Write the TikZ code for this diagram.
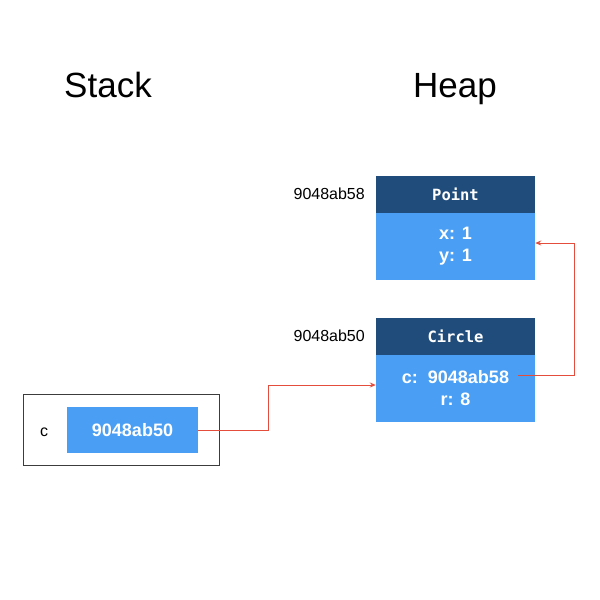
\documentclass[tikz,border=0pt]{standalone}
\usepackage{fontspec}
\setmainfont{Liberation Sans}
\setmonofont{DejaVu Sans Mono}
\usepackage{tikz}
\usetikzlibrary{arrows.meta,positioning,calc}
\usepackage{xcolor}
\definecolor{headblue}{RGB}{31,76,122}
\definecolor{cellblue}{RGB}{74,159,245}
\definecolor{ptrred}{RGB}{228,76,60}
\definecolor{frame}{RGB}{60,60,60}

\begin{document}
\begin{tikzpicture}[
  x=1pt, y=-1pt,
  >=Stealth,
  title/.style={anchor=base, font=\fontsize{35}{40}\selectfont},
  addr/.style={anchor=east, inner sep=0pt, font=\fontsize{16}{18}\selectfont},
  head/.style={fill=headblue, text=white, minimum width=159pt, minimum height=37pt, inner sep=0pt, font=\ttfamily\bfseries\fontsize{15.5}{18}\selectfont},
  body/.style={fill=cellblue, text=white, minimum width=159pt, minimum height=67pt, inner sep=0pt, align=center, font=\bfseries\fontsize{18}{22}\selectfont},
  ptr/.style={-{Stealth[length=6pt,width=5pt]}, draw=ptrred, line width=1pt}
]
\useasboundingbox (0,0) rectangle (600,600);

\node[title] (stack) at (108,97) {Stack};
\node[title] (heap) at (455,97) {Heap};

\node[head] (pointhead) at (455.5,194.5) {Point};
\node[body] (pointbody) at (455.5,246.5) {x: 1\\y: 1};
\node[addr] (pointaddr) at (365,194) {9048ab58};

\node[head] (circlehead) at (455.5,336) {Circle};
\node[body] (circlebody) at (455.5,388.5) {c:\ \ 9048ab58\\r: 8};
\node[addr] (circleaddr) at (365,336) {9048ab50};

\node[draw=frame, line width=0.9pt, minimum width=196pt, minimum height=71pt] (frame) at (121,429.5) {};
\node[body, minimum width=131pt, minimum height=46pt] (stackval) at (132.5,430) {9048ab50};
\node[font=\fontsize{16}{18}\selectfont] (cvar) at (44,432) {c};

\coordinate (cptr) at (518,375);
\draw[ptr] (stackval.east) -- ++(70,0) |- ([yshift=3.5pt]circlebody.west);
\draw[ptr] (cptr) -- ++(56,0) |- ([yshift=3.5pt]pointbody.east);
\end{tikzpicture}
\end{document}
